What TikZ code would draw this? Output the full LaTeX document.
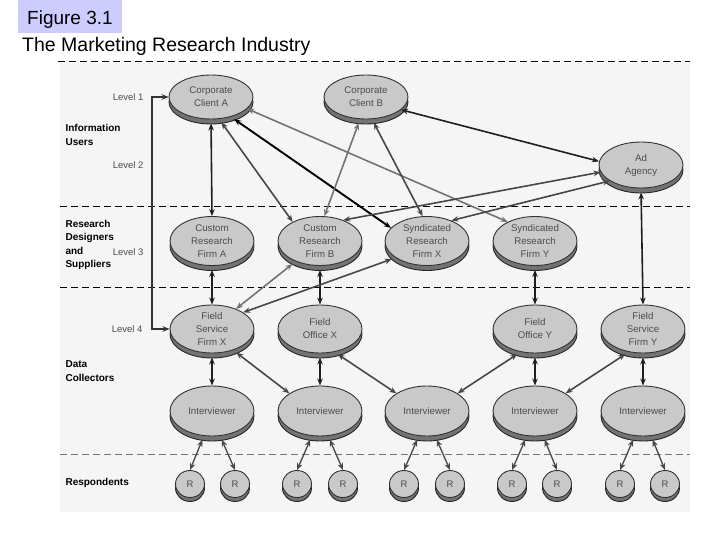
\documentclass[tikz,border=0pt]{standalone}
\usepackage{fontspec}
\setmainfont{Liberation Sans}
\usetikzlibrary{shapes.geometric,arrows.meta,shadows}
\definecolor{lav}{RGB}{204,204,255}
\begin{document}
\begin{tikzpicture}[x=1pt,y=-1pt,
  ent/.style={ellipse, draw=black!80, line width=0.9pt, fill=black!21,
    minimum width=84pt, minimum height=49pt, inner sep=0pt, align=center,
    text=black!70, font=\fontsize{9.7}{13}\selectfont,
    general shadow={shadow yshift=-5pt, fill=black!55, draw=black!85, line width=0.9pt}},
  topn/.style={ent, minimum height=44pt},
  resp/.style={ellipse, draw=black!80, line width=0.9pt, fill=black!21,
    minimum width=29pt, minimum height=27pt, inner sep=0pt,
    text=black!70, font=\fontsize{9.5}{11}\selectfont,
    general shadow={shadow yshift=-4pt, fill=black!55, draw=black!85, line width=0.9pt}},
  lvl/.style={anchor=east, font=\fontsize{9.5}{11}\selectfont, text=black!70},
  grp/.style={anchor=west, align=left, font=\fontsize{10}{13.3}\selectfont\bfseries},
  link/.style={{Stealth[length=7pt,width=5.5pt]}-{Stealth[length=7pt,width=5.5pt]}, line width=1.6pt, draw=black!88},
  glink/.style={link, draw=black!55},
  mlink/.style={link, draw=black!72},
  low/.style={shorten <=4pt},
  sep/.style={dash pattern=on 7pt off 4pt, line width=0.9pt},
]
\useasboundingbox (0,0) rectangle (720,540);
\fill[white] (0,0) rectangle (720,540);
% title
\fill[lav] (18,0) rectangle (122,33);
\node[anchor=base west, inner sep=0pt, font=\fontsize{19}{22}\selectfont] (fig) at (27,25) {Figure 3.1};
\node[anchor=base west, inner sep=0pt, font=\fontsize{19.5}{22}\selectfont] (ttl) at (22,52) {The Marketing Research Industry};
% background panel
\fill[black!4] (60,63) rectangle (690,512);
% separators
\draw[sep] (58,61) -- (690,61);
\draw[sep] (60,206) -- (690,206);
\draw[sep] (60,287) -- (690,287);
\draw[sep, draw=black!55] (60,454) -- (690,454);
% left labels
\node[lvl] (l1) at (147,97) {Level 1};
\node[lvl] (l2) at (147,165) {Level 2};
\node[lvl] (l3) at (147,252) {Level 3};
\node[lvl] (l4) at (146,329) {Level 4};
\node[grp] (g1) at (62,135) {Information\\Users};
\node[grp] (g2) at (62,245) {Research\\Designers\\and\\Suppliers};
\node[grp] (g3) at (62,371) {Data\\Collectors};
\node[grp] (g4) at (62,483) {Respondents};
% level 1
\node[topn] (CA) at (211,97) {Corporate\\Client A};
\node[topn] (CB) at (366,97) {Corporate\\Client B};
\node[ent, minimum height=46pt] (AD) at (641,165) {Ad\\Agency};
% level 3
\node[ent] (FA) at (212,241) {Custom\\Research\\Firm A};
\node[ent] (FB) at (320,241) {Custom\\Research\\Firm B};
\node[ent] (SX) at (427,241) {Syndicated\\Research\\Firm X};
\node[ent] (SY) at (535,241) {Syndicated\\Research\\Firm Y};
% level 4
\node[ent, minimum height=48pt] (FSX) at (212,329) {Field\\Service\\Firm X};
\node[ent, minimum height=48pt] (FOX) at (320,329) {Field\\Office X};
\node[ent, minimum height=48pt] (FOY) at (535,329) {Field\\Office Y};
\node[ent, minimum height=48pt] (FSY) at (643,329) {Field\\Service\\Firm Y};
% interviewers
\foreach \i/\x in {1/212,2/320,3/427,4/535,5/643}{
  \node[ent, minimum height=50pt] (I\i) at (\x,411) {Interviewer};
}
% respondents
\foreach \j/\x in {1/190,2/235,3/297,4/343,5/404,6/450,7/512,8/557,9/620,10/665}{
  \node[resp] (R\j) at (\x,484) {R};
}
% bracket
\coordinate (bt) at (152,97);
\coordinate (bb) at (152,329);
\draw[link, draw=black!80, line width=1.6pt] (CA.west) -- (bt) -- (bb) -- (FSX.west);
% client links
\draw[link, low] (CA.south) -- (FA.north);
\draw[mlink, low] (CA.-70) -- (FB.145);
\draw[link, draw=black, line width=1.9pt, low] (CA.-45) -- (SX.160);
\draw[glink] (CA.-18) -- (SY.145);
\draw[glink, low] (CB.-105) -- (FB.80);
\draw[mlink, low] (CB.-75) -- (SX.100);
\draw[link] (CB.-20) -- (AD.175);
\draw[mlink] (AD.190) -- (FB.42);
\draw[mlink] (AD.207) -- (SX.40);
\draw[link, low] (AD.south) -- (FSY.north);
% level 3 -> level 4
\draw[link, low] (FA.south) -- (FSX.north);
\draw[link, low] (FB.south) -- (FOX.north);
\draw[link, low] (SY.south) -- (FOY.north);
\draw[glink, low] (FB.-140) -- (FSX.40);
\draw[mlink, low] (SX.-152) -- (FSX.28);
% level 4 -> interviewers
\draw[link, low] (FSX.south) -- (I1.north);
\draw[mlink, low] (FSX.-45) -- (I2.150);
\draw[link, low] (FOX.south) -- (I2.north);
\draw[mlink, low] (FOX.-58) -- (I3.150);
\draw[mlink, low] (FOY.-122) -- (I3.30);
\draw[link, low] (FOY.south) -- (I4.north);
\draw[mlink, low] (FSY.-122) -- (I4.30);
\draw[link, low] (FSY.south) -- (I5.north);
% interviewers -> respondents
\foreach \i/\a/\b in {1/1/2,2/3/4,3/5/6,4/7/8,5/9/10}{
  \draw[mlink, line width=1.3pt, low] (I\i.-108) -- (R\a.north);
  \draw[mlink, line width=1.3pt, low] (I\i.-72) -- (R\b.north);
}
\end{tikzpicture}
\end{document}
